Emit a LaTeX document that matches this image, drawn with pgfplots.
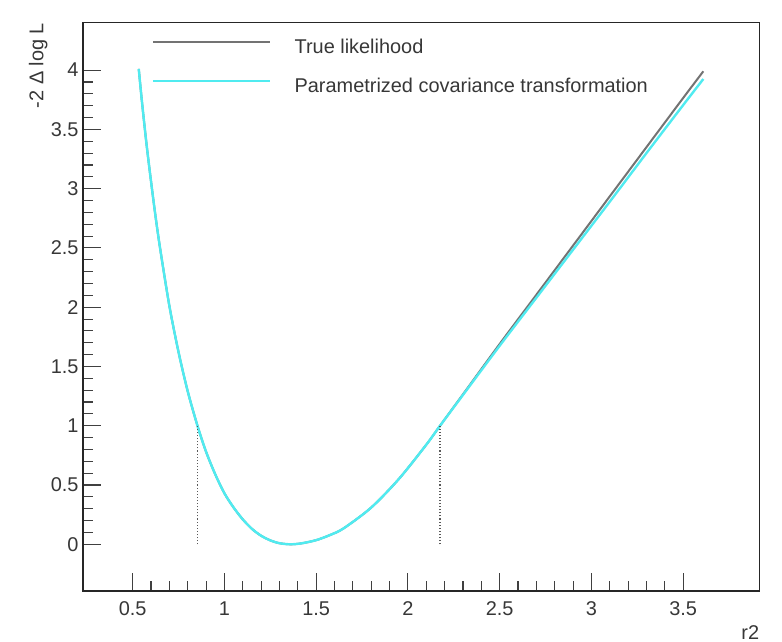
\documentclass[border=0pt]{standalone}
\usepackage{fontspec}
\setmainfont{Liberation Sans}
\usepackage{pgfplots}
\pgfplotsset{compat=1.18}
\definecolor{rootcyan}{RGB}{80,235,240}
\definecolor{txt}{RGB}{55,55,55}
\begin{document}
\begin{tikzpicture}
\useasboundingbox (-82.7bp,-51bp) rectangle (699.3bp,591bp);
\begin{axis}[
  scale only axis, width=676.6bp, height=568.3bp,
  xmin=0.2275, xmax=3.915, ymin=-0.394, ymax=4.40,
  xtick={0.5,1,...,3.5}, ytick={0,0.5,...,4},
  minor x tick num=4, minor y tick num=4,
  tick pos=left, tick align=inside,
  major tick length=18bp, minor tick length=10bp,
  axis line style={black!85, line width=1.6bp},
  every tick/.style={black!75, line width=1.1bp},
  /pgf/number format/assume math mode=true,
  tick label style={font=\fontsize{20}{24}\selectfont, text=txt, inner sep=0pt},
  xticklabel style={anchor=north, yshift=-10.5bp},
  yticklabel style={anchor=east, xshift=-4bp},
  every axis x label/.style={at={(axis description cs:1,0)}, anchor=base east, yshift=-48bp},
  every axis y label/.style={at={(axis description cs:-0.058,1)}, anchor=base east, rotate=90},
  label style={font=\fontsize{20}{24}\selectfont, text=txt, inner sep=0pt},
  xlabel={r2}, ylabel={-2 Δ log L},
  legend image code/.code={\draw[#1] (0bp,6.4bp) -- (117bp,6.4bp);},
  legend cell align=left,
  legend style={at={(axis description cs:0.098,0.975)}, anchor=north west,
    draw=none, fill=none, font=\fontsize{20}{24}\selectfont, text=txt,
    row sep=21.4bp, column sep=0bp,
    nodes={inner sep=0pt, text height=14bp, text depth=4bp},
    /tikz/every odd column/.append style={column sep=23bp}},
]
\addplot[black!55, line width=2bp, smooth] coordinates {
 (0.533,4.01) (0.55,3.74) (0.575,3.38) (0.6,3.06) (0.625,2.76) (0.65,2.49)
 (0.7,2.01) (0.75,1.62) (0.8,1.29) (0.853,1.0) (0.9,0.78) (0.95,0.59)
 (1.0,0.43) (1.05,0.31) (1.1,0.21) (1.15,0.13) (1.2,0.072) (1.25,0.033)
 (1.3,0.009) (1.36,0.0) (1.42,0.008) (1.5,0.035) (1.575,0.078) (1.65,0.135)
 (1.8,0.31) (1.95,0.55) (2.1,0.84) (2.175,1.0) (2.3,1.265) (2.5,1.69)
 (2.7,2.105) (2.9,2.52) (3.1,2.935) (3.3,3.35) (3.5,3.765) (3.61,3.99)};
\addlegendentry{True likelihood}
\addplot[rootcyan, line width=2.4bp, smooth] coordinates {
 (0.533,4.01) (0.55,3.74) (0.575,3.38) (0.6,3.06) (0.625,2.76) (0.65,2.49)
 (0.7,2.01) (0.75,1.62) (0.8,1.29) (0.853,1.0) (0.9,0.78) (0.95,0.59)
 (1.0,0.43) (1.05,0.31) (1.1,0.21) (1.15,0.13) (1.2,0.072) (1.25,0.033)
 (1.3,0.009) (1.36,0.0) (1.42,0.008) (1.5,0.035) (1.575,0.078) (1.65,0.135)
 (1.8,0.31) (1.95,0.55) (2.1,0.84) (2.175,1.0) (2.3,1.26) (2.5,1.675)
 (2.7,2.08) (2.9,2.485) (3.1,2.89) (3.3,3.3) (3.5,3.705) (3.61,3.925)};
\addlegendentry{Parametrized covariance transformation}
\addplot[black!65, line width=1.1bp, dotted, forget plot] coordinates {(0.853,0) (0.853,1)};
\addplot[black!65, line width=1.1bp, dotted, forget plot] coordinates {(2.175,0) (2.175,1)};
\end{axis}
\draw[black!85, line width=1.6bp] (0,0) rectangle (676.6bp,568.3bp);
\end{tikzpicture}
\end{document}
